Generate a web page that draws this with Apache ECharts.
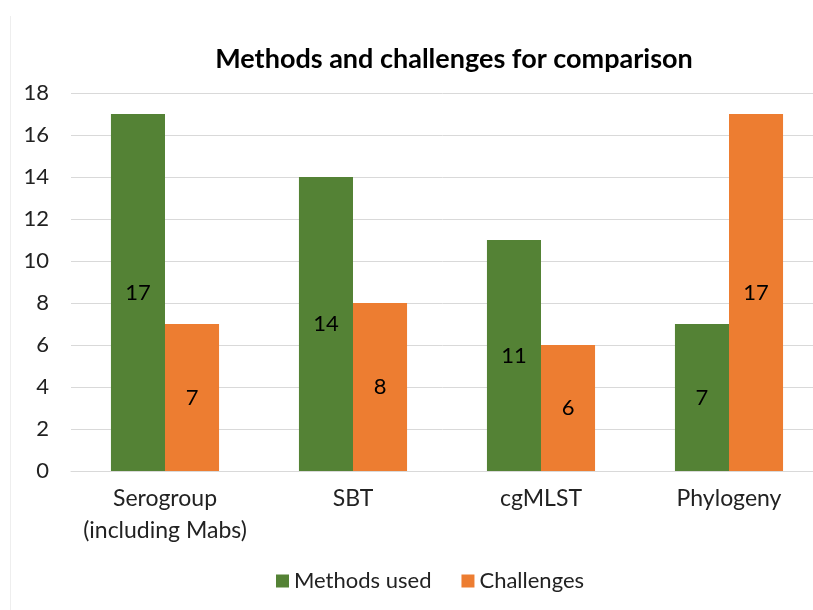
<!DOCTYPE html>
<html><head><meta charset="utf-8">
<script src="https://cdn.jsdelivr.net/npm/echarts@6/dist/echarts.min.js"></script>
<style>html,body{margin:0;padding:0;background:#fff}#c{width:813px;height:610px}</style>
</head><body><div id="c"></div>
<script>
const categories = ['Serogroup\n(including Mabs)', 'SBT', 'cgMLST', 'Phylogeny'];
const methodsUsed = [17, 14, 11, 7];
const challenges = [7, 8, 6, 17];
const yTicks = [0, 2, 4, 6, 8, 10, 12, 14, 16, 18];
const FONT = 'Lato';
const chart = echarts.init(document.getElementById('c'));
const lbl = {show: true, position: 'inside', color: '#000', fontSize: 22, fontFamily: FONT};
chart.setOption({
  backgroundColor: '#fff',
  animation: false,
  graphic: [{type: 'line', shape: {x1: 10.5, y1: 16, x2: 10.5, y2: 610}, style: {stroke: '#eeeeee', lineWidth: 1}}],
  title: {text: 'Methods and challenges for comparison', left: 449, textAlign: 'center', top: 41,
    textStyle: {fontFamily: FONT, fontSize: 27, fontWeight: 'bold', color: '#000'}},
  legend: {top: 565, left: 271, itemWidth: 13, itemHeight: 13, itemGap: 30, icon: 'rect',
    textStyle: {fontFamily: FONT, fontSize: 22, color: '#222'}, data: ['Methods used', 'Challenges']},
  grid: {left: 71, width: 752, top: 93, bottom: 139, outerBoundsMode: 'none', containLabel: false},
  xAxis: {type: 'category', data: categories,
    axisLine: {lineStyle: {color: '#d9d9d9', width: 1}}, axisTick: {show: false},
    axisLabel: {fontFamily: FONT, fontSize: 23, color: '#222', margin: 12, lineHeight: 32,
      interval: 0, hideOverlap: false}},
  yAxis: {type: 'value', min: yTicks[0], max: yTicks[yTicks.length - 1], interval: 2,
    axisLine: {show: false}, axisTick: {show: false},
    splitLine: {lineStyle: {color: '#d9d9d9', width: 1}},
    axisLabel: {fontFamily: FONT, fontSize: 22, color: '#222', margin: 22}},
  series: [
    {name: 'Methods used', type: 'bar', data: methodsUsed, barGap: '0%', barCategoryGap: '42.5%',
     itemStyle: {color: '#548235'}, label: lbl},
    {name: 'Challenges', type: 'bar', data: challenges,
     itemStyle: {color: '#ed7d31'}, label: lbl}
  ]
});
</script></body></html>
